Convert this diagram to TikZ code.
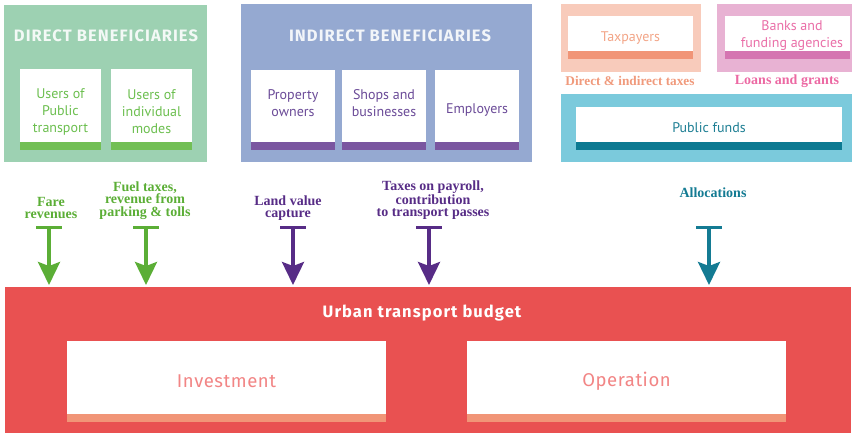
\documentclass[tikz,border=0pt]{standalone}
\usepackage{fontspec}
\setmainfont{Liberation Serif}
\newfontfamily\dinfont{PT Sans}
\newfontfamily\firafont[LetterSpace=3]{Fira Sans}
\newfontfamily\titlefont[LetterSpace=6.5]{Fira Sans}
\usetikzlibrary{arrows.meta}
\definecolor{directbg}{HTML}{9DD1B2}
\definecolor{greenbar}{HTML}{72BF55}
\definecolor{greentext}{HTML}{6CBF4F}
\definecolor{greenarrow}{HTML}{5BAE36}
\definecolor{indirectbg}{HTML}{95A9D1}
\definecolor{purplebar}{HTML}{7A56A0}
\definecolor{purpletext}{HTML}{6B4B98}
\definecolor{purplearrow}{HTML}{572C86}
\definecolor{taxbg}{HTML}{F8CBBB}
\definecolor{taxbar}{HTML}{F19577}
\definecolor{taxtext}{HTML}{F3A587}
\definecolor{taxlabel}{HTML}{F09A7C}
\definecolor{bankbg}{HTML}{E8B2D3}
\definecolor{bankbar}{HTML}{D575B1}
\definecolor{banktext}{HTML}{EA6FA8}
\definecolor{banklabel}{HTML}{EC69A3}
\definecolor{pubbg}{HTML}{7BCADC}
\definecolor{pubbar}{HTML}{0D7A92}
\definecolor{pubtext}{HTML}{1E7F94}
\definecolor{tealarrow}{HTML}{147B93}
\definecolor{budgetred}{HTML}{E95151}
\definecolor{invtext}{HTML}{F28585}
\begin{document}
\begin{tikzpicture}[x=1pt,y=-1pt,
  panel/.style={anchor=north west, inner sep=0pt, outer sep=0pt, draw=none},
  card/.style={anchor=north west, inner sep=0pt, outer sep=0pt, fill=white,
    path picture={\fill[#1] ([yshift=8pt]path picture bounding box.south west) rectangle (path picture bounding box.south east);}},
  cardtext/.style={align=center, inner sep=0pt, font=\dinfont\fontsize{14}{17}\selectfont},
  title/.style={inner sep=0pt, font=\titlefont\bfseries\fontsize{16.5}{18}\selectfont},
  flowlabel/.style={align=center, inner sep=0pt, font=\bfseries\fontsize{14}{12.5}\selectfont},
  tbar/.style={line width=3pt},
  tarrow/.style={line width=3.5pt, -{Stealth[length=23pt,width=22pt,inset=4pt]}, shorten >=2pt}
]
\useasboundingbox (0,0) rectangle (852,433);

% Direct beneficiaries
\node[panel, fill=directbg, minimum width=203pt, minimum height=157pt] (direct) at (4,5) {};
\node[title, text=white!88!directbg] (directtitle) at (106,35.5) {DIRECT BENEFICIARIES};
\node[card=greenbar, minimum width=81pt, minimum height=81pt] (c1) at (20,69) {};
\node[card=greenbar, minimum width=81pt, minimum height=81pt] (c2) at (111,69) {};
\node[cardtext, text=greentext] (c1t) at (60.5,112) {Users of\\Public\\transport};
\node[cardtext, text=greentext] (c2t) at (151.5,112) {Users of\\individual\\modes};

% Indirect beneficiaries
\node[panel, fill=indirectbg, minimum width=291pt, minimum height=158pt] (indirect) at (241,4) {};
\node[title, text=white!88!indirectbg] (indirecttitle) at (390,35.5) {INDIRECT BENEFICIARIES};
\node[card=purplebar, minimum width=84pt, minimum height=80pt] (c3) at (251,70) {};
\node[card=purplebar, minimum width=84pt, minimum height=80pt] (c4) at (342,70) {};
\node[card=purplebar, minimum width=84pt, minimum height=80pt] (c5) at (435,70) {};
\node[cardtext, text=purpletext] (c3t) at (293,103.5) {Property\\owners};
\node[cardtext, text=purpletext] (c4t) at (384,103.5) {Shops and\\businesses};
\node[cardtext, text=purpletext] (c5t) at (477,110) {Employers};

% Taxpayers
\node[panel, fill=taxbg, minimum width=140pt, minimum height=68pt] (tax) at (561,4) {};
\node[card=taxbar, minimum width=125pt, minimum height=43pt] (taxcard) at (568,16) {};
\node[cardtext, text=taxtext] (taxt) at (630.5,38.5) {Taxpayers};
\node[flowlabel, text=taxlabel, font=\bfseries\fontsize{13.3}{12.5}\selectfont] (taxlabel) at (630,81) {Direct \& indirect taxes};

% Banks
\node[panel, fill=bankbg, minimum width=135pt, minimum height=68pt] (bank) at (717,4) {};
\node[card=bankbar, minimum width=125pt, minimum height=43pt] (bankcard) at (725,16) {};
\node[cardtext, text=banktext] (bankt) at (792,35.5) {Banks and\\funding agencies};
\node[flowlabel, text=banklabel] (banklabel) at (787,81) {Loans and grants};

% Public funds
\node[panel, fill=pubbg, minimum width=291pt, minimum height=68pt] (pub) at (561,94) {};
\node[card=pubbar, minimum width=266pt, minimum height=43pt] (pubcard) at (576,107) {};
\node[cardtext, text=pubtext] (pubt) at (709,127.5) {Public funds};

% Budget
\node[panel, fill=budgetred, minimum width=846pt, minimum height=146pt] (budget) at (5,287) {};
\node[title, text=white] (budgettitle) at (422,313.5) {Urban transport budget};
\node[card=taxbar, minimum width=319pt, minimum height=81pt] (inv) at (67,341) {};
\node[card=taxbar, minimum width=319pt, minimum height=81pt] (op) at (467,341) {};
\node[cardtext, text=invtext, font=\firafont\fontsize{18.5}{20}\selectfont] (invt) at (226.5,381.5) {Investment};
\node[cardtext, text=invtext, font=\firafont\fontsize{18.5}{20}\selectfont] (opt) at (626.5,381.5) {Operation};

% Flow labels
\node[flowlabel, text=greenarrow] (l1) at (51,208) {Fare\\revenues};
\node[flowlabel, text=greenarrow] (l2) at (145,200.5) {Fuel taxes,\\revenue from\\parking \& tolls};
\node[flowlabel, text=purplearrow] (l3) at (288,208) {Land value\\capture};
\node[flowlabel, text=purplearrow] (l4) at (433,200.5) {Taxes on payroll,\\contribution\\to transport passes};
\node[flowlabel, text=tealarrow] (l5) at (713,193) {Allocations};

% Arrows
\coordinate (a1) at (49,227.5);
\coordinate (a2) at (146,227.5);
\coordinate (a3) at (293,227.5);
\coordinate (a4) at (429,227.5);
\coordinate (a5) at (709,227.5);
\foreach \a/\c in {a1/greenarrow,a2/greenarrow,a3/purplearrow,a4/purplearrow,a5/tealarrow}{
  \draw[tbar, \c] ([xshift=-13pt]\a) -- ([xshift=13pt]\a);
  \draw[tarrow, \c] (\a) -- (\a |- budget.north);
}
\end{tikzpicture}
\end{document}
